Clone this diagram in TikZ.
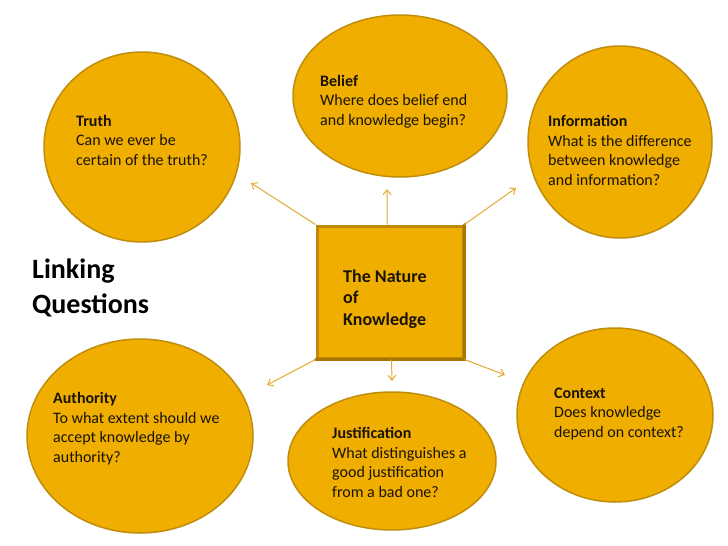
\documentclass[tikz,border=0pt]{standalone}
\usepackage{fontspec}
\setmainfont{Carlito}
\usetikzlibrary{shapes.geometric,arrows.meta,calc}
\definecolor{gold}{HTML}{F0AE00}
\definecolor{goldline}{HTML}{C08D0C}
\definecolor{boxline}{HTML}{BE8A0A}
\definecolor{boxshade}{HTML}{A57700}
\definecolor{arrowc}{HTML}{E4AA30}
\definecolor{ink}{HTML}{1A1408}
\tikzset{
  bubble/.style={ellipse, draw=goldline, fill=gold, line width=1.5pt, inner sep=0pt},
  centrebox/.style={rectangle, draw=boxline, fill=gold, line width=3pt, inner sep=0pt, minimum width=146pt, minimum height=132pt},
  boxshadow/.style={draw=boxshade, line width=3pt, line cap=round},
  txt/.style={anchor=base west, align=left, inner sep=0pt, text=ink, font=\fontsize{16}{19.5}\selectfont},
  boxtxt/.style={anchor=base west, align=left, inner sep=0pt, text=ink, font=\fontsize{18}{21.5}\selectfont\bfseries},
  bigtxt/.style={anchor=base west, align=left, inner sep=0pt, text=black, font=\fontsize{28}{35}\selectfont\bfseries},
  conn/.style={draw=arrowc, line width=1pt, -{Straight Barb[length=5pt,width=8pt]}}
}
\begin{document}
\begin{tikzpicture}[x=1pt,y=-1pt]
\useasboundingbox[fill=white] (0,0) rectangle (728,546);
% bubbles
\node[bubble, minimum width=196pt, minimum height=190pt] (truth) at (142,147) {};
\node[bubble, minimum width=214pt, minimum height=162pt] (belief) at (400,96) {};
\node[bubble, minimum width=184pt, minimum height=192pt] (info) at (620,142) {};
\node[bubble, minimum width=226pt, minimum height=194pt] (auth) at (140,436) {};
\node[bubble, minimum width=208pt, minimum height=138pt] (just) at (392,461) {};
\node[bubble, minimum width=196pt, minimum height=174pt] (ctx) at (615,415) {};
% centre box
\node[centrebox] (nature) at (390,292) {};
\draw[boxshadow] (nature.north east) -- (nature.south east) -- (nature.south west);
% texts (anchored at the baseline of their last line)
\node[boxtxt] (naturetext) at (343,325) {The Nature\\of\\Knowledge};
\node[txt] (truthtext) at (76,165) {\textbf{Truth}\\Can we ever be\\certain of the truth?};
\node[txt] (belieftext) at (320,125) {\textbf{Belief}\\Where does belief end\\and knowledge begin?};
\node[txt] (infotext) at (548,185) {\textbf{Information}\\What is the difference\\between knowledge\\and information?};
\node[txt] (authtext) at (53,462) {\textbf{Authority}\\To what extent should we\\accept knowledge by\\authority?};
\node[txt] (justtext) at (332,497) {\textbf{Justification}\\What distinguishes a\\good justification\\from a bad one?};
\node[txt] (ctxtext) at (554,437) {\textbf{Context}\\Does knowledge\\depend on context?};
\node[bigtxt] (linking) at (32,313) {Linking\\Questions};
% connector ends
\coordinate (eTruth) at (251,183);
\coordinate (eBelief) at (387,189);
\coordinate (eInfo) at (516,188);
\coordinate (eAuth) at (267,385);
\coordinate (eJust) at (392,381);
\coordinate (eCtx) at (505,375);
\draw[conn] (nature.north west) -- (eTruth);
\draw[conn] ($(nature.north west)!0.48!(nature.north east)$) -- (eBelief);
\draw[conn] (nature.north east) -- (eInfo);
\draw[conn] (nature.south west) -- (eAuth);
\draw[conn] ($(nature.south west)!0.51!(nature.south east)$) -- (eJust);
\draw[conn] (nature.south east) -- (eCtx);
\end{tikzpicture}
\end{document}
